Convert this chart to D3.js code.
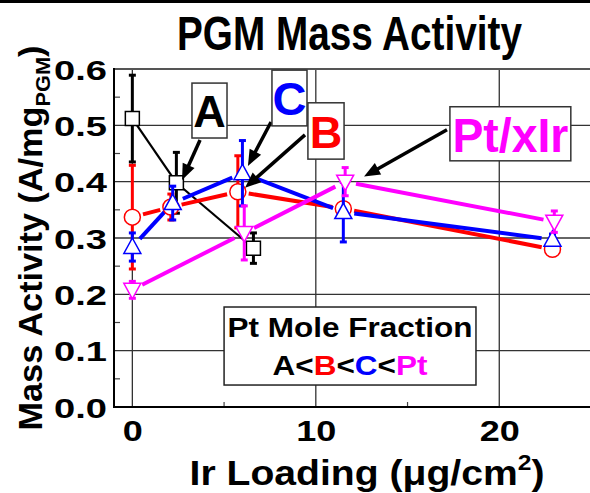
<!DOCTYPE html>
<html><head><meta charset="utf-8">
<script src="https://cdn.jsdelivr.net/npm/d3@7"></script>
<style>
body{margin:0;background:#fff}
svg{display:block}
text{font-family:"Liberation Sans",Arial,sans-serif;font-weight:bold}
</style>
</head><body>
<svg id="c" width="590" height="493"></svg>
<script>
// ---------- data ----------
const xTicks = [0, 10, 20];
const xMinorTicks = [5, 15];
const yTicks = [0, 0.1, 0.2, 0.3, 0.4, 0.5, 0.6];
const yMinorTicks = [0.05, 0.15, 0.25, 0.35, 0.45, 0.55];
const yTickLabels = ["0.0", "0.1", "0.2", "0.3", "0.4", "0.5", "0.6"];

const seriesNames = ["A", "B", "C", "Pt/xIr"];
const seriesColors = ["#000000", "#FF0000", "#0000FF", "#FF00FF"];
const seriesSymbols = ["square", "circle", "triUp", "triDown"];

const xA = [0, 2.4, 6.6];
const yA = [0.512, 0.398, 0.282];
const eA = [0.077, 0.054, 0.027];

const xB = [0, 2.1, 5.75, 11.5, 22.9];
const yB = [0.337, 0.355, 0.382, 0.352, 0.280];
const eB = [0.092, 0.023, 0.064, 0.011, 0.006];

const xC = [0, 2.2, 6.0, 11.5, 22.9];
const yC = [0.284, 0.362, 0.415, 0.346, 0.297];
const eC = [0.025, 0.030, 0.058, 0.053, 0.010];

const xP = [0, 6.1, 11.6, 23.0];
const yP = [0.208, 0.309, 0.400, 0.329];
const eP = [0.015, 0.048, 0.025, 0.019];

const seriesX = [xA, xB, xC, xP];
const seriesY = [yA, yB, yC, yP];
const seriesE = [eA, eB, eC, eP];

const titleText = "PGM Mass Activity";
const legendTitle = "Pt Mole Fraction";

// ---------- layout ----------
const svg = d3.select("#c");
const x = d3.scaleLinear().domain([-1, 25]).range([114, 591]);
const y = d3.scaleLinear().domain([0, 0.6]).range([407, 69]);
const X0 = x.range()[0], X1 = x.range()[1], Y0 = y.range()[0], Y1 = y.range()[1];

function fit(t, w) {
  const nat = t.node().getComputedTextLength();
  return w / nat;
}

// top remnant line
svg.append("line").attr("x1", 0).attr("x2", 590).attr("y1", 1.5).attr("y2", 1.5)
  .attr("stroke", "#000").attr("stroke-width", 3);

// gridlines
const grid = svg.append("g");
yTicks.filter(d => d > 0 && d < 0.6).forEach(d => {
  grid.append("line").attr("x1", X0).attr("x2", X1).attr("y1", y(d)).attr("y2", y(d))
    .attr("stroke", "#333").attr("stroke-width", 1.3);
});
xTicks.forEach(d => {
  grid.append("line").attr("x1", x(d)).attr("x2", x(d)).attr("y1", Y1).attr("y2", Y0)
    .attr("stroke", "#333").attr("stroke-width", 1.3);
});
yMinorTicks.forEach(d => grid.append("line").attr("x1", X0).attr("x2", X0 + 6)
  .attr("y1", y(d)).attr("y2", y(d)).attr("stroke", "#444").attr("stroke-width", 1.2));
xMinorTicks.forEach(d => grid.append("line").attr("x1", x(d)).attr("x2", x(d))
  .attr("y1", Y0).attr("y2", Y0 - 5).attr("stroke", "#444").attr("stroke-width", 1.2));

// frame
svg.append("line").attr("x1", X0).attr("x2", X1).attr("y1", Y1).attr("y2", Y1)
  .attr("stroke", "#555").attr("stroke-width", 2);
svg.append("line").attr("x1", X0).attr("x2", X0).attr("y1", Y1 - 1).attr("y2", Y0 + 1)
  .attr("stroke", "#000").attr("stroke-width", 2);
svg.append("line").attr("x1", X0 - 1).attr("x2", X1).attr("y1", Y0).attr("y2", Y0)
  .attr("stroke", "#000").attr("stroke-width", 2);

// axes (labels only)
const yAxis = svg.append("g").attr("transform", `translate(${X0},0)`)
  .call(d3.axisLeft(y).tickValues(yTicks).tickFormat((d, i) => yTickLabels[i]).tickSize(0).tickPadding(0));
yAxis.select(".domain").remove();
yAxis.selectAll("text").attr("font-size", 28).attr("fill", "#000")
  .attr("font-family", null).attr("x", 0).attr("dy", null).attr("y", 10)
  .each(function () {
    const t = d3.select(this);
    const s = fit(t, 53);
    t.attr("transform", `translate(-7,0) scale(${s},1)`);
  });

const xAxis = svg.append("g").attr("transform", `translate(0,${Y0})`)
  .call(d3.axisBottom(x).tickValues(xTicks).tickSize(0).tickPadding(0));
xAxis.select(".domain").remove();
xAxis.selectAll("text").attr("font-size", 30).attr("fill", "#000")
  .attr("font-family", null).attr("y", 34).attr("dy", null)
  .attr("transform", "scale(1.2,1)");

// lines with gaps around symbols (Origin style)
seriesNames.forEach((n, si) => {
  const pts = seriesX[si].map((v, i) => [x(v), y(seriesY[si][i])]);
  const gap = si === 0 ? 8 : 11;
  const g = svg.append("g");
  d3.pairs(pts).forEach(([p, q]) => {
    const dx = q[0] - p[0], dy = q[1] - p[1], len = Math.hypot(dx, dy);
    if (len <= 2 * gap) return;
    const ux = dx / len, uy = dy / len;
    g.append("line")
      .attr("x1", p[0] + ux * gap).attr("y1", p[1] + uy * gap)
      .attr("x2", q[0] - ux * gap).attr("y2", q[1] - uy * gap)
      .attr("stroke", seriesColors[si]).attr("stroke-width", si === 0 ? 2.2 : 4);
  });
});

// error bars + markers
function symbolPath(type) {
  if (type === "square") return "M-7,-7H7V7H-7Z";
  if (type === "triUp") return "M0,-9L8.5,6.5H-8.5Z";
  if (type === "triDown") return "M0,9L8.5,-6.5H-8.5Z";
  return null;
}
seriesNames.forEach((n, si) => {
  const g = svg.append("g");
  const col = seriesColors[si];
  seriesX[si].forEach((v, i) => {
    const cx = x(v), vy = seriesY[si][i], e = seriesE[si][i];
    const yt = y(vy + e), yb = y(vy - e);
    g.append("line").attr("x1", cx).attr("x2", cx).attr("y1", yt).attr("y2", yb)
      .attr("stroke", col).attr("stroke-width", 3);
    [yt, yb].forEach(yy => g.append("line").attr("x1", cx - 3.5).attr("x2", cx + 3.5)
      .attr("y1", yy).attr("y2", yy).attr("stroke", col).attr("stroke-width", 3));
  });
  seriesX[si].forEach((v, i) => {
    const cx = x(v), cy = y(seriesY[si][i]);
    if (seriesSymbols[si] === "circle") {
      g.append("circle").attr("cx", cx).attr("cy", cy).attr("r", 8)
        .attr("fill", "#fff").attr("stroke", col).attr("stroke-width", 1.5);
    } else {
      g.append("path").attr("d", symbolPath(seriesSymbols[si]))
        .attr("transform", `translate(${cx},${cy})`)
        .attr("fill", "#fff").attr("stroke", col).attr("stroke-width", 1.5);
    }
  });
});

// annotation arrows (data coords)
const arrows = [
  {from: [3.69, 0.474], to: [2.71, 0.403]},
  {from: [7.56, 0.506], to: [6.30, 0.428]},
  {from: [9.41, 0.483], to: [6.14, 0.389]},
  {from: [17.15, 0.492], to: [12.63, 0.409]}
];
arrows.forEach(a => {
  const x1 = x(a.from[0]), y1 = y(a.from[1]), x2 = x(a.to[0]), y2 = y(a.to[1]);
  const ang = Math.atan2(y2 - y1, x2 - x1);
  const L = 16, W = 6.5;
  const bx = x2 - L * Math.cos(ang), by = y2 - L * Math.sin(ang);
  svg.append("line").attr("x1", x1).attr("y1", y1).attr("x2", bx + 2 * Math.cos(ang)).attr("y2", by + 2 * Math.sin(ang))
    .attr("stroke", "#000").attr("stroke-width", 3.5);
  const px = -Math.sin(ang), py = Math.cos(ang);
  svg.append("path").attr("d", `M${x2},${y2}L${bx + W * px},${by + W * py}L${bx - W * px},${by - W * py}Z`)
    .attr("fill", "#000");
});

// annotation boxes (data coords)
const boxes = [
  {x0: 3.25, x1: 5.16, y0: 0.575, y1: 0.4775, text: "A", color: seriesColors[0], size: 45},
  {x0: 7.61, x1: 9.52, y0: 0.598, y1: 0.499, text: "C", color: seriesColors[2], size: 47},
  {x0: 9.57, x1: 11.54, y0: 0.540, y1: 0.440, text: "B", color: seriesColors[1], size: 45},
  {x0: 17.31, x1: 23.90, y0: 0.533, y1: 0.437, text: "Pt/xIr", color: seriesColors[3], size: 48, w: 116}
];
boxes.forEach(b => {
  const bx0 = x(b.x0), bx1 = x(b.x1), by0 = y(b.y0), by1 = y(b.y1);
  svg.append("rect").attr("x", bx0).attr("y", by0).attr("width", bx1 - bx0).attr("height", by1 - by0)
    .attr("fill", "#fff").attr("stroke", "#333").attr("stroke-width", 1.5);
  const t = svg.append("text").attr("text-anchor", "middle").attr("font-size", b.size)
    .attr("fill", b.color).text(b.text);
  const s = b.w ? fit(t, b.w) : 1;
  t.attr("transform", `translate(${(bx0 + bx1) / 2},${(by0 + by1) / 2 + b.size * 0.37}) scale(${s},1)`);
});

// legend box
{
  const lx0 = x(5.0), lx1 = x(18.73), ly0 = y(0.1775), ly1 = y(0.039);
  svg.append("rect").attr("x", lx0).attr("y", ly0).attr("width", lx1 - lx0).attr("height", ly1 - ly0)
    .attr("fill", "#fff").attr("stroke", "#222").attr("stroke-width", 1.5);
  const cx = (lx0 + lx1) / 2;
  const t1 = svg.append("text").attr("text-anchor", "middle").attr("font-size", 28).text(legendTitle);
  t1.attr("transform", `translate(${cx},${ly0 + 30}) scale(${fit(t1, 245)},1)`);
  const t2 = svg.append("text").attr("text-anchor", "middle").attr("font-size", 28);
  const parts = [["A", 0], ["<", -1], ["B", 1], ["<", -1], ["C", 2], ["<", -1], ["Pt", 3]];
  parts.forEach(p => t2.append("tspan").attr("fill", p[1] < 0 ? "#000" : seriesColors[p[1]]).text(p[0]));
  const nat = t2.node().getComputedTextLength();
  t2.attr("transform", `translate(${cx},${ly0 + 68}) scale(${155 / nat},1)`);
}

// title
{
  const t = svg.append("text").attr("text-anchor", "middle").attr("font-size", 48).text(titleText);
  t.attr("transform", `translate(349.5,50) scale(${fit(t, 345)},1)`);
}
// x label
{
  const t = svg.append("text").attr("text-anchor", "middle").attr("font-size", 35);
  t.append("tspan").text("Ir Loading (\u03BCg/cm");
  t.append("tspan").attr("font-size", 22).attr("dy", -15).text("2");
  t.append("tspan").attr("dy", 15).text(")");
  const nat = t.node().getBBox().width;
  t.attr("transform", `translate(367,485) scale(${355 / nat},1)`);
}
// y label
{
  const t = svg.append("text").attr("text-anchor", "middle").attr("font-size", 33);
  t.append("tspan").text("Mass Activity (A/mg");
  t.append("tspan").attr("font-size", 21).attr("dy", 8).text("PGM");
  t.append("tspan").attr("dy", -8).text(")");
  const nat = t.node().getBBox().width;
  t.attr("transform", `translate(42,238) rotate(-90) scale(${385 / nat},1)`);
}
</script>
</body></html>
